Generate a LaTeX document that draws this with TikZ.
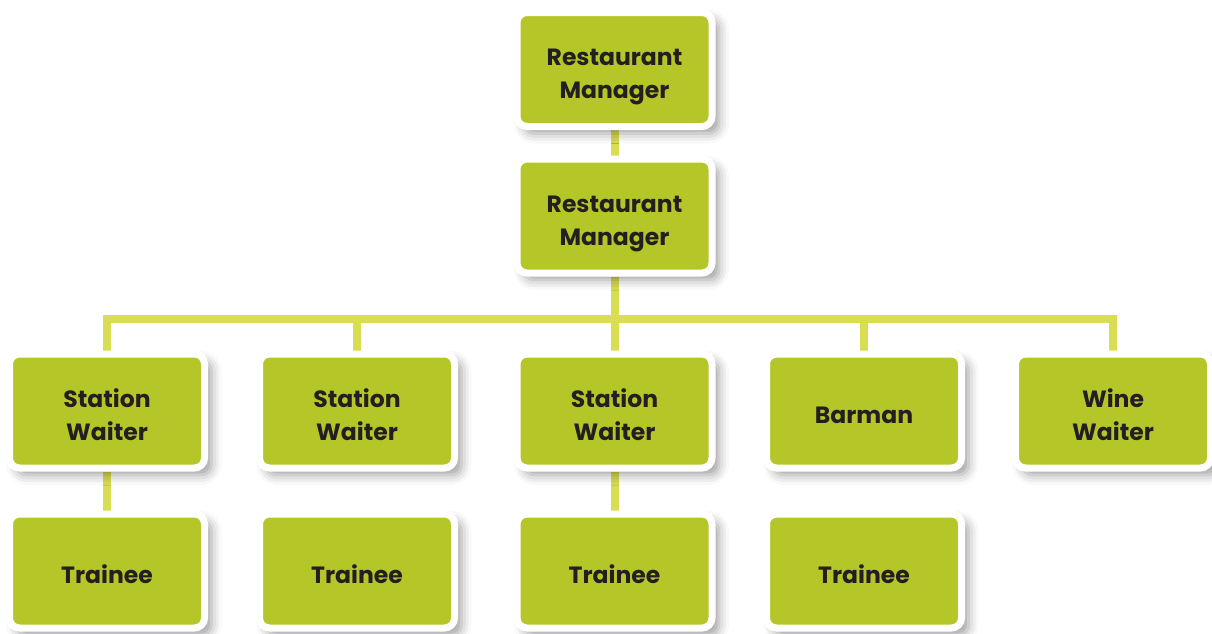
\documentclass[tikz,border=0pt]{standalone}
\usepackage{fontspec}
\setmainfont{Poppins}
\usetikzlibrary{shadows.blur}
\definecolor{boxgreen}{HTML}{B5C728}
\definecolor{connc}{HTML}{D9DD52}
\definecolor{textdark}{HTML}{231F20}
\pgfdeclarelayer{background}
\pgfsetlayers{background,main}
\newcommand\bxtext[1]{\raisebox{-6pt}[\height][\depth]{\begin{tabular}{@{}c@{}}#1\end{tabular}}}
\tikzset{
  box/.style={rectangle, rounded corners=10pt, fill=boxgreen, draw=white,
    line width=7pt, minimum width=195pt, minimum height=114pt,
    inner sep=0pt, text=textdark,
    font=\bfseries\fontsize{23.5}{33}\selectfont,
    blur shadow={shadow xshift=7pt, shadow yshift=-7pt, shadow blur radius=10pt, shadow opacity=38}},
  conn/.style={draw=connc, line width=8pt, line join=miter}
}
\begin{document}
\begin{tikzpicture}[x=1pt,y=-1pt]
\useasboundingbox (0,0) rectangle (1212,633);
\node[box] (m1) at (614.5,69.5) {\bxtext{Restaurant\\Manager}};
\node[box] (m2) at (614.5,216) {\bxtext{Restaurant\\Manager}};
\coordinate (bus) at (614.5,319);
\node[box] (s1) at (107,411) {\bxtext{Station\\Waiter}};
\node[box] (s2) at (357,411) {\bxtext{Station\\Waiter}};
\node[box] (s3) at (614.5,411) {\bxtext{Station\\Waiter}};
\node[box] (s4) at (864,411) {\bxtext{Barman}};
\node[box] (s5) at (1113,411) {\bxtext{Wine\\Waiter}};
\node[box] (t1) at (107,571) {\bxtext{Trainee}};
\node[box] (t2) at (357,571) {\bxtext{Trainee}};
\node[box] (t3) at (614.5,571) {\bxtext{Trainee}};
\node[box] (t4) at (864,571) {\bxtext{Trainee}};
\begin{pgfonlayer}{background}
\draw[conn] (m1) -- (m2);
\draw[conn] (m2) -- (bus);
\draw[conn] (s1) -- (s1 |- bus) -- (s5 |- bus) -- (s5);
\draw[conn] (s2 |- bus) -- (s2);
\draw[conn] (s3 |- bus) -- (s3);
\draw[conn] (s4 |- bus) -- (s4);
\draw[conn] (s1) -- (t1);
\draw[conn] (s3) -- (t3);
\end{pgfonlayer}
\end{tikzpicture}
\end{document}
